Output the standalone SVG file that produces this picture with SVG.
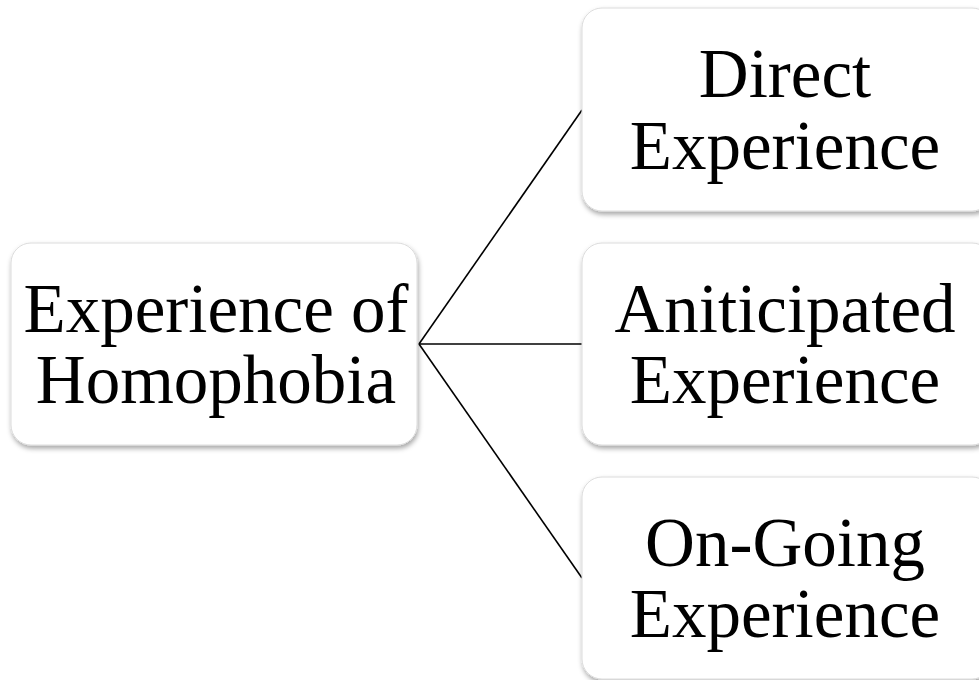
<svg xmlns="http://www.w3.org/2000/svg" width="979" height="680" viewBox="0 0 979 680">
<style>
.box{fill:#ffffff;stroke:#dcdcdc;stroke-width:1;filter:url(#sh)}
.t{font-family:"Liberation Serif","DejaVu Serif",serif;font-size:69px;fill:#000;text-anchor:middle}
.c{stroke:#000;stroke-width:1.6;fill:none}
</style>
<defs>
<filter id="sh" x="-10%" y="-10%" width="120%" height="125%">
<feDropShadow dx="1" dy="3" stdDeviation="2.5" flood-color="#000" flood-opacity="0.35"/>
</filter>
</defs>
<rect width="979" height="680" fill="#ffffff"/>
<g id="connectors">
<line class="c" x1="419" y1="344" x2="582" y2="110"/>
<line class="c" x1="419" y1="344" x2="582" y2="344"/>
<line class="c" x1="419" y1="344" x2="582" y2="578"/>
</g>
<g id="root">
<rect class="box" x="11" y="243" width="406" height="202" rx="20"/>
<text class="t" x="216" y="332">Experience of</text>
<text class="t" x="216" y="403">Homophobia</text>
</g>
<g id="direct">
<rect class="box" x="582" y="8" width="410" height="203" rx="20"/>
<text class="t" x="785" y="97">Direct</text>
<text class="t" x="785" y="169">Experience</text>
</g>
<g id="anticipated">
<rect class="box" x="582" y="243" width="410" height="202" rx="20"/>
<text class="t" x="785" y="332">Aniticipated</text>
<text class="t" x="785" y="403">Experience</text>
</g>
<g id="ongoing">
<rect class="box" x="582" y="477" width="410" height="202" rx="20"/>
<text class="t" x="785" y="566">On-Going</text>
<text class="t" x="785" y="637">Experience</text>
</g>
</svg>
